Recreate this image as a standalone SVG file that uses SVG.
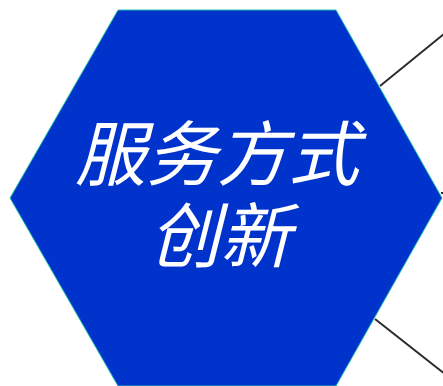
<svg xmlns="http://www.w3.org/2000/svg" width="443" height="386" viewBox="0 0 443 386">
<style>
.conn{stroke:#2b2b2b;stroke-width:2;fill:none}
.hex{fill:#0033cc;stroke:#22c0a8;stroke-width:1}
.lbl{fill:#ffffff;font-family:"Noto Sans CJK SC","Noto Sans",sans-serif;font-size:71px;font-style:italic;font-weight:400;text-anchor:middle}
</style>
<rect width="443" height="386" fill="#ffffff"/>
<g id="connectors">
<line class="conn" x1="380" y1="86" x2="460" y2="21"/>
<line class="conn" x1="441" y1="193" x2="460" y2="193"/>
<line class="conn" x1="375" y1="319" x2="460" y2="386"/>
</g>
<g id="node-service">
<polygon class="hex" points="118,10 336,10 442,198 336,386 118,386 10,198"/>
<text class="lbl" x="217" y="180">服务方式</text>
<text class="lbl" x="220" y="262">创新</text>
</g>
</svg>
